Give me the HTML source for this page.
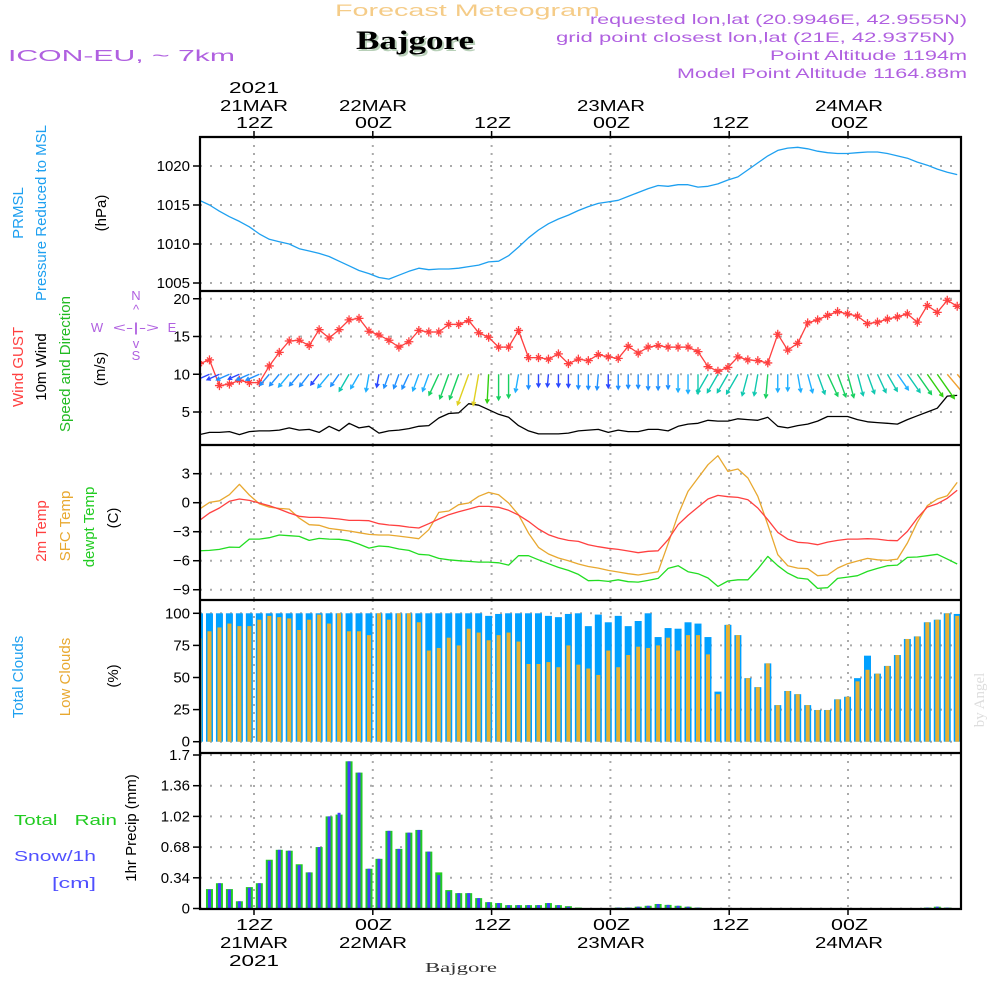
<!DOCTYPE html>
<html><head><meta charset="utf-8">
<style>
html,body{margin:0;padding:0;background:#fff;}
svg{display:block;font-family:"Liberation Sans",sans-serif;}
.tk{font-size:15px;fill:#000;text-anchor:end;}
.tl{font-size:16px;fill:#000;text-anchor:middle;}
.lb{font-size:15px;text-anchor:middle;}
.pu{fill:#b060e0;font-size:14px;}
</style></head>
<body>
<svg id="chart" width="1000" height="1000" viewBox="0 0 1000 1000">
  <g id="grid"></g>
  <g id="marks"></g>
  <g id="frame"></g>
  <g id="ticks"></g>

  <!-- header -->
  <text x="335" y="16" textLength="265" lengthAdjust="spacingAndGlyphs" style="font-size:17px;fill:#f5cc88">Forecast Meteogram</text>
  <text x="358" y="51" textLength="118" lengthAdjust="spacingAndGlyphs" style="font-family:'Liberation Serif',serif;font-weight:bold;font-size:26px;fill:#b8d0b8">Bajgore</text>
  <text x="356" y="49" textLength="118" lengthAdjust="spacingAndGlyphs" style="font-family:'Liberation Serif',serif;font-weight:bold;font-size:26px;fill:#000">Bajgore</text>
  <text x="8" y="61" class="pu" textLength="227" lengthAdjust="spacingAndGlyphs" style="font-size:16px">ICON-EU, ~ 7km</text>
  <text x="590" y="24" class="pu" textLength="377" lengthAdjust="spacingAndGlyphs">requested lon,lat (20.9946E, 42.9555N)</text>
  <text x="556" y="42" class="pu" textLength="399" lengthAdjust="spacingAndGlyphs">grid point closest lon,lat (21E, 42.9375N)</text>
  <text x="770" y="60" class="pu" textLength="197" lengthAdjust="spacingAndGlyphs">Point Altitude 1194m</text>
  <text x="677" y="78" class="pu" textLength="290" lengthAdjust="spacingAndGlyphs">Model Point Altitude 1164.88m</text>

  <!-- top time labels -->
  <g>
    <text x="229" y="93" class="tl" style="text-anchor:start" textLength="50" lengthAdjust="spacingAndGlyphs">2021</text>
    <text x="220" y="111" class="tl" style="text-anchor:start" textLength="68" lengthAdjust="spacingAndGlyphs">21MAR</text>
    <text x="236" y="128" class="tl" style="text-anchor:start" textLength="37" lengthAdjust="spacingAndGlyphs">12Z</text>
    <text x="339" y="111" class="tl" style="text-anchor:start" textLength="68" lengthAdjust="spacingAndGlyphs">22MAR</text>
    <text x="355" y="128" class="tl" style="text-anchor:start" textLength="37" lengthAdjust="spacingAndGlyphs">00Z</text>
    <text x="474" y="128" class="tl" style="text-anchor:start" textLength="37" lengthAdjust="spacingAndGlyphs">12Z</text>
    <text x="577" y="111" class="tl" style="text-anchor:start" textLength="68" lengthAdjust="spacingAndGlyphs">23MAR</text>
    <text x="593" y="128" class="tl" style="text-anchor:start" textLength="37" lengthAdjust="spacingAndGlyphs">00Z</text>
    <text x="712" y="128" class="tl" style="text-anchor:start" textLength="37" lengthAdjust="spacingAndGlyphs">12Z</text>
    <text x="815" y="111" class="tl" style="text-anchor:start" textLength="68" lengthAdjust="spacingAndGlyphs">24MAR</text>
    <text x="831" y="128" class="tl" style="text-anchor:start" textLength="37" lengthAdjust="spacingAndGlyphs">00Z</text>
  </g>
  <!-- bottom time labels -->
  <g>
    <text x="236" y="930" class="tl" style="text-anchor:start" textLength="37" lengthAdjust="spacingAndGlyphs">12Z</text>
    <text x="220" y="948" class="tl" style="text-anchor:start" textLength="68" lengthAdjust="spacingAndGlyphs">21MAR</text>
    <text x="229" y="966" class="tl" style="text-anchor:start" textLength="50" lengthAdjust="spacingAndGlyphs">2021</text>
    <text x="355" y="930" class="tl" style="text-anchor:start" textLength="37" lengthAdjust="spacingAndGlyphs">00Z</text>
    <text x="339" y="948" class="tl" style="text-anchor:start" textLength="68" lengthAdjust="spacingAndGlyphs">22MAR</text>
    <text x="474" y="930" class="tl" style="text-anchor:start" textLength="37" lengthAdjust="spacingAndGlyphs">12Z</text>
    <text x="593" y="930" class="tl" style="text-anchor:start" textLength="37" lengthAdjust="spacingAndGlyphs">00Z</text>
    <text x="577" y="948" class="tl" style="text-anchor:start" textLength="68" lengthAdjust="spacingAndGlyphs">23MAR</text>
    <text x="712" y="930" class="tl" style="text-anchor:start" textLength="37" lengthAdjust="spacingAndGlyphs">12Z</text>
    <text x="831" y="930" class="tl" style="text-anchor:start" textLength="37" lengthAdjust="spacingAndGlyphs">00Z</text>
    <text x="815" y="948" class="tl" style="text-anchor:start" textLength="68" lengthAdjust="spacingAndGlyphs">24MAR</text>
  </g>
  <text x="425" y="972" textLength="72" lengthAdjust="spacingAndGlyphs" style="font-family:'Liberation Serif',serif;font-size:14px;fill:#333">Bajgore</text>
  <text transform="translate(984,700) rotate(-90)" text-anchor="middle" style="font-family:'Liberation Serif',serif;font-size:15px;fill:#ddd">by Angel</text>

  <!-- left labels: pressure -->
  <text transform="translate(23,213) rotate(-90)" class="lb" fill="#1ea0f0">PRMSL</text>
  <text transform="translate(46,213) rotate(-90)" class="lb" fill="#1ea0f0">Pressure Reduced to MSL</text>
  <text transform="translate(106,213) rotate(-90)" class="lb" fill="#000">(hPa)</text>
  <!-- wind -->
  <text transform="translate(23,367) rotate(-90)" class="lb" fill="#ff4040">Wind GUST</text>
  <text transform="translate(46,367) rotate(-90)" class="lb" fill="#000">10m Wind</text>
  <text transform="translate(70,364) rotate(-90)" class="lb" fill="#22bb22">Speed and Direction</text>
  <text transform="translate(105,369) rotate(-90)" class="lb" fill="#000">(m/s)</text>
  <g style="font-size:13px;fill:#b060e0">
    <text x="97" y="332" text-anchor="middle">W</text>
    <text x="113" y="332" textLength="46" lengthAdjust="spacingAndGlyphs">&lt;-|-&gt;</text>
    <text x="172" y="332" text-anchor="middle">E</text>
    <text x="136" y="300" text-anchor="middle">N</text>
    <text x="136" y="314" text-anchor="middle">^</text>
    <text x="136" y="348" text-anchor="middle">v</text>
    <text x="136" y="360" text-anchor="middle">S</text>
  </g>
  <!-- temperature -->
  <text transform="translate(46,531) rotate(-90)" class="lb" fill="#ff4040">2m Temp</text>
  <text transform="translate(70,526) rotate(-90)" class="lb" fill="#e8a830">SFC Temp</text>
  <text transform="translate(94,527) rotate(-90)" class="lb" fill="#22cc22">dewpt Temp</text>
  <text transform="translate(118,518) rotate(-90)" class="lb" fill="#000">(C)</text>
  <!-- clouds -->
  <text transform="translate(23,677) rotate(-90)" class="lb" fill="#1ea0f0">Total Clouds</text>
  <text transform="translate(70,677) rotate(-90)" class="lb" fill="#e8a830">Low Clouds</text>
  <text transform="translate(118,676) rotate(-90)" class="lb" fill="#000">(%)</text>
  <!-- precip -->
  <text transform="translate(136,828) rotate(-90)" class="lb" fill="#000">1hr Precip (mm)</text>
  <text x="14" y="825" textLength="103" lengthAdjust="spacingAndGlyphs" style="font-size:15px;fill:#22cc22">Total&#160;&#160;&#160;Rain</text>
  <text x="14" y="861" textLength="82" lengthAdjust="spacingAndGlyphs" style="font-size:15px;fill:#5050ff">Snow/1h</text>
  <text x="52" y="888" textLength="44" lengthAdjust="spacingAndGlyphs" style="font-size:15px;fill:#5050ff">[cm]</text>
</svg>

<script>
// ---------- data ----------
const pressure = [1015.6,1015.0,1014.2,1013.5,1012.9,1012.2,1011.3,1010.6,1010.3,1010.0,
1009.4,1009.1,1008.8,1008.4,1007.8,1007.2,1006.6,1006.2,1005.7,1005.5,
1006.0,1006.5,1006.9,1006.7,1006.8,1006.8,1006.9,1007.1,1007.3,1007.7,
1007.8,1008.5,1009.6,1010.8,1011.8,1012.6,1013.2,1013.7,1014.3,1014.8,
1015.2,1015.4,1015.6,1016.1,1016.6,1017.1,1017.5,1017.4,1017.6,1017.6,
1017.3,1017.4,1017.7,1018.2,1018.6,1019.5,1020.4,1021.3,1022.0,1022.3,
1022.4,1022.2,1021.9,1021.7,1021.6,1021.6,1021.7,1021.8,1021.8,1021.6,
1021.3,1021.0,1020.5,1020.1,1019.6,1019.2,1018.9];
const gust = [11.4,11.9,8.5,8.7,9.2,8.9,8.9,11.1,12.9,14.4,
14.5,13.8,15.9,14.8,15.9,17.2,17.4,15.7,15.2,14.5,
13.6,14.3,15.8,15.6,15.6,16.6,16.6,17.1,15.5,14.9,
13.6,13.6,15.8,12.2,12.2,12.0,12.7,11.4,12.0,11.8,
12.6,12.3,12.1,13.7,12.8,13.6,13.8,13.6,13.6,13.6,
13.0,11.0,10.4,10.9,12.3,11.9,11.8,11.5,15.3,13.2,
14.1,16.8,17.2,17.8,18.3,18.0,17.7,16.7,16.9,17.3,
17.6,18.0,16.9,19.1,18.2,19.8,19.0];
const windSpeed = [2.0,2.3,2.3,2.4,2.0,2.4,2.5,2.5,2.6,2.9,
2.6,2.7,2.3,3.1,2.5,3.5,2.9,3.1,2.2,2.5,
2.6,2.8,3.1,3.2,4.2,4.8,4.9,6.1,5.9,5.3,
4.7,4.3,3.2,2.5,2.1,2.1,2.1,2.2,2.5,2.6,
2.7,2.3,2.6,2.4,2.4,2.7,2.7,2.5,3.1,3.4,
3.5,3.9,3.8,3.8,4.1,4.0,3.9,4.3,3.1,2.9,
3.2,3.4,3.8,4.4,4.4,4.4,4.0,3.7,3.6,3.5,
3.4,4.0,4.5,5.0,5.5,7.1,7.2];
// arrow direction (deg from straight down, + = toward east)
const windDir = [-66,-66,-66,-66,-66,-66,-66,-40,-40,-40,
-40,-38,-38,-40,-35,-30,-30,-10,-10,-20,
-20,-25,-20,-20,-25,-20,-20,-20,-10,-3,
0,0,-10,0,0,-5,0,0,0,0,
-5,0,0,0,0,0,0,0,0,0,
0,-30,-30,-30,-30,-15,-10,-5,0,0,
10,15,20,25,20,15,15,20,25,30,
35,35,35,35,35,40,40];
const temp2m = [-1.83,-1.07,-0.55,0.14,0.38,0.24,-0.03,-0.31,-0.66,-1.07,
-1.41,-1.52,-1.52,-1.59,-1.69,-1.83,-1.83,-1.86,-2.17,-2.31,
-2.38,-2.52,-2.62,-2.17,-1.69,-1.24,-0.93,-0.66,-0.38,-0.38,
-0.48,-0.79,-1.28,-1.93,-2.72,-3.31,-3.66,-3.9,-4.0,-4.34,
-4.55,-4.72,-4.83,-5.0,-5.17,-5.03,-4.97,-3.83,-2.28,-1.31,
-0.45,0.38,0.76,0.62,0.55,0.31,-0.55,-1.76,-3.07,-3.76,
-4.1,-4.17,-4.34,-4.07,-3.9,-3.76,-3.76,-3.72,-3.76,-3.9,
-3.93,-2.97,-1.59,-0.45,-0.1,0.45,1.28];
const tempSfc = [-0.66,0.03,0.2,0.83,1.9,0.8,-0.1,-0.45,-0.59,-0.66,
-1.59,-2.28,-2.34,-2.66,-2.79,-2.93,-3.1,-3.28,-3.34,-3.34,
-3.45,-3.59,-3.72,-2.79,-1.0,-0.86,-0.21,-0.03,0.66,1.07,
0.83,-0.03,-1.24,-3.14,-4.62,-5.31,-5.72,-6.0,-6.34,-6.6,
-6.76,-7.0,-7.17,-7.34,-7.48,-7.31,-7.14,-4.24,-1.24,1.17,
2.55,3.93,4.86,3.24,3.48,2.55,0.66,-2.28,-5.38,-6.52,
-6.76,-6.83,-7.55,-7.48,-6.76,-6.31,-6.03,-5.76,-5.9,-5.97,
-5.83,-4.17,-2.03,-0.31,0.38,0.72,2.1];
const dewpt = [-4.97,-4.93,-4.83,-4.59,-4.62,-3.76,-3.76,-3.62,-3.34,-3.41,
-3.48,-3.9,-3.69,-3.76,-3.79,-3.93,-4.28,-4.69,-4.48,-4.55,
-4.79,-4.93,-5.34,-5.41,-5.76,-5.9,-6.0,-6.07,-6.14,-6.14,
-6.21,-6.45,-5.48,-5.48,-5.9,-6.31,-6.69,-7.0,-7.41,-8.07,
-8.03,-8.14,-7.97,-8.17,-8.21,-8.03,-7.83,-6.79,-6.52,-7.14,
-7.34,-7.79,-8.66,-8.1,-7.97,-7.97,-6.86,-5.55,-6.52,-7.28,
-7.79,-7.9,-8.86,-8.79,-7.83,-7.69,-7.55,-7.1,-6.79,-6.52,
-6.45,-5.66,-5.62,-5.48,-5.34,-5.83,-6.34];
const totalClouds = [100,100,100,100,100,100,100,100,100,100,
100,100,100,100,100,100,100,100,100,100,
100,100,100,100,100,100,100,100,100,98,
99.5,100,100,100,100,98,97,99.5,100,90,
99,93,98,90,94,100,81.5,88.5,88,93,
92,81.5,39,91,83,49.5,42.5,61,28.5,39.5,
37,28.5,24.7,24.7,33,35,49.5,67,53,59,
67.5,80,82,93,95,100,99.5];
const lowClouds = [80.5,86,89,92,90,90,95,98,97,96,
87,95,99,92,100,86,86,83,100,95,
100,100,93,71,73,81,75,88,85,79,
83,85,78,60.5,60.5,62,58,75,60,57,
52,71,58,67.5,74,73,75,81,71,83,
83,68,37,91,83,49.5,42.5,61,28.5,39.5,
37,28.5,24.7,24.7,33,35,47,56,53,59,
67.5,80,82,93,95,100,98];
const rain = [0,0.215,0.28,0.215,0.08,0.237,0.28,0.54,0.65,0.64,
0.49,0.40,0.68,1.02,1.04,1.63,1.505,0.44,0.55,0.86,
0.66,0.84,0.87,0.63,0.40,0.204,0.17,0.17,0.115,0.07,
0.06,0.037,0.037,0.037,0.037,0.06,0.037,0.026,0.01,0.005,
0.005,0.005,0.01,0.01,0.02,0.03,0.05,0.04,0.03,0.02,
0.01,0.005,0,0,0,0,0,0,0,0,
0,0,0,0,0,0,0,0,0,0,
0,0,0.005,0.01,0.02,0.01,0.005];
const snow = [0,0.21,0.28,0.21,0.08,0.23,0.28,0.53,0.65,0.64,
0.48,0.40,0.68,1.02,1.06,1.63,1.505,0.44,0.55,0.86,
0.66,0.84,0.87,0.63,0.37,0.19,0.17,0.17,0.115,0.07,
0.06,0.037,0.037,0.037,0.037,0.06,0.037,0.02,0.005,0,
0,0,0.01,0.01,0.02,0.03,0.05,0.04,0.03,0.02,
0.01,0,0,0,0,0,0,0,0,0,
0,0,0,0,0,0,0,0,0,0,
0,0,0,0.01,0.02,0.01,0];
const timeTicksHours = [12,24,36,48,60,72];
const pressureTicks = [1005,1010,1015,1020];
const windTicks = [5,10,15,20];
const tempTicks = [3,0,-3,-6,-9];
const cloudTicks = [0,25,50,75,100];
const precipTicks = [0,0.34,0.68,1.02,1.36,1.7];
const precipTickLabels = ["0","0.34","0.68","1.02","1.36","1.7"];

// ---------- scales ----------
const X0=200, X1=961;
const xi = i => 199.5 + i*9.97;
const xT = h => 254 + (h-12)*9.9;
const yP = v => 283 - (v-1005)*7.8;
const yW = v => 412 - (v-5)*7.55;
const yT = v => 502.7 - v*9.67;
const yC = v => 741.7 - v*1.284;
const yR = v => 908.5 - v*(153.5/1.7);
const panels = [[137,291],[291,445],[445,600],[600,742],[753,909]];

const NS='http://www.w3.org/2000/svg';
function mk(tag, attrs, parent){
  const e=document.createElementNS(NS,tag);
  for(const k in attrs) e.setAttribute(k,attrs[k]);
  parent.appendChild(e); return e;
}
const grid=document.getElementById('grid');
const marks=document.getElementById('marks');
const frame=document.getElementById('frame');
const ticks=document.getElementById('ticks');

const defs=mk('defs',{},document.getElementById('chart'));
const cp=mk('clipPath',{id:'plotclip'},defs);
mk('rect',{x:X0,y:137,width:X1-X0,height:772},cp);
marks.setAttribute('clip-path','url(#plotclip)');

panels.forEach(p=>{
  timeTicksHours.forEach(h=>{
    const l=mk('line',{x1:xT(h),x2:xT(h),y1:p[0],y2:p[1],stroke:'#aaa','stroke-width':2,'stroke-dasharray':'2,6'},grid);
    
    
  });
});
function hAxis(vals, labels, yf){
  vals.forEach((v,k)=>{
    const y=yf(v);
    const g=mk('line',{x1:X0,x2:X1,y1:y,y2:y,stroke:'#aaa','stroke-width':2,'stroke-dasharray':'2,8'},grid);
    
    
    mk('line',{x1:193,x2:X0,y1:y,y2:y,stroke:'#000','stroke-width':1.5},ticks);
    const t=mk('text',{x:190,y:y+5,class:'tk'},ticks);
    t.textContent=labels[k];
    
    
  });
}
hAxis(pressureTicks, pressureTicks.map(String), yP);
hAxis(windTicks, windTicks.map(String), yW);
hAxis(tempTicks, tempTicks.map(v=>v<0?'\u2212'+(-v):String(v)), yT);
hAxis(cloudTicks, cloudTicks.map(String), yC);
hAxis(precipTicks, precipTickLabels, yR);
timeTicksHours.forEach(h=>{
  mk('line',{x1:xT(h),x2:xT(h),y1:131,y2:137,stroke:'#000','stroke-width':1.5},ticks);
  mk('line',{x1:xT(h),x2:xT(h),y1:909,y2:915,stroke:'#000','stroke-width':1.5},ticks);
});

totalClouds.forEach((v,i)=>{
  const b=mk('rect',{x:xi(i)-3.5,y:yC(v),width:7,height:yC(0)-yC(v),fill:'#00a0ff'},marks);
  
  
});
lowClouds.forEach((v,i)=>{
  const b=mk('rect',{x:xi(i)-2,y:yC(v),width:4,height:yC(0)-yC(v),fill:'#e8b030'},marks);
  
  
});
rain.forEach((v,i)=>{
  if(v<=0) return;
  const b=mk('rect',{x:xi(i)-3.5,y:yR(v),width:7,height:Math.max(1,yR(0)-yR(v)),fill:'#22cc22'},marks);
  
  
});
snow.forEach((v,i)=>{
  if(v<=0) return;
  const b=mk('rect',{x:xi(i)-1.5,y:yR(v),width:3,height:Math.max(1,yR(0)-yR(v)),fill:'#4040ff'},marks);
  
  
});

function poly(arr, yf, color, name, w){
  const pts=arr.map((v,i)=>xi(i).toFixed(1)+','+yf(v).toFixed(1)).join(' ');
  const p=mk('polyline',{points:pts,fill:'none',stroke:color,'stroke-width':w||1.3,'stroke-linejoin':'round'},marks);
  
  
}
poly(pressure,yP,'#1ea0f0','pressure-line');
poly(windSpeed,yW,'#000','wind-speed-line');
poly(gust,yW,'#ff4040','gust-line');
poly(tempSfc,yT,'#e8a830','sfc-temp-line');
poly(temp2m,yT,'#ff4040','temp2m-line');
poly(dewpt,yT,'#22dd22','dewpt-line');

gust.forEach((v,i)=>{
  const x=xi(i), y=yW(v);
  const g=mk('path',{d:`M${x-4.5},${y}H${x+4.5}M${x},${y-4.5}V${y+4.5}M${x-2.5},${y-2.5}L${x+2.5},${y+2.5}M${x+2.5},${y-2.5}L${x-2.5},${y+2.5}`,stroke:'#ff4040','stroke-width':1.3},marks);
  
  
});

function arrowColor(s){
  if(s<2.4) return '#2a48ff';
  if(s<2.9) return '#2090ff';
  if(s<3.5) return '#20b0ff';
  if(s<4.2) return '#10c8b0';
  if(s<5.0) return '#18d060';
  if(s<5.8) return '#30d010';
  if(s<6.5) return '#e0d020';
  return '#f0a030';
}
windDir.forEach((d,i)=>{
  const s=windSpeed[i];
  const len=5*s+2;
  const a=d*Math.PI/180;
  const x0=xi(i), y0=yW(10);
  const x1=x0+Math.sin(a)*len, y1=y0+Math.cos(a)*len;
  const h=4, ang=Math.atan2(y1-y0,x1-x0);
  const hx1=x1-h*Math.cos(ang-0.5), hy1=y1-h*Math.sin(ang-0.5);
  const hx2=x1-h*Math.cos(ang+0.5), hy2=y1-h*Math.sin(ang+0.5);
  const col=arrowColor(s);
  const p=mk('path',{d:`M${x0},${y0}L${x1},${y1}M${hx1},${hy1}L${x1},${y1}L${hx2},${hy2}`,stroke:col,'stroke-width':1.4,fill:'none'},marks);
  
  
});

[137,291,445,600,753,909].forEach(y=>{
  mk('line',{x1:X0-1,x2:X1+1,y1:y,y2:y,stroke:'#000','stroke-width':2.2},frame);
});
mk('line',{x1:X0,x2:X0,y1:136,y2:910,stroke:'#000','stroke-width':2.2},frame);
mk('line',{x1:X1,x2:X1,y1:136,y2:910,stroke:'#000','stroke-width':2.2},frame);
</script>
</body></html>
